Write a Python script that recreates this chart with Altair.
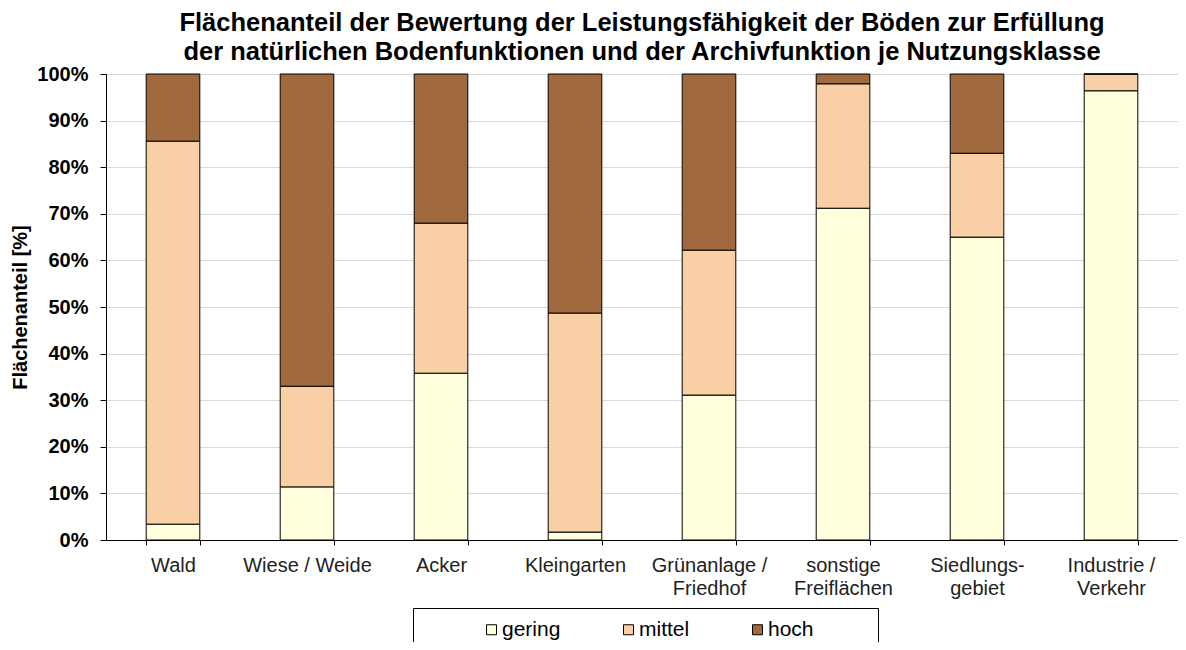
import altair as alt
import pandas as pd

categories = ["Wald", "Wiese / Weide", "Acker", "Kleingarten", "Grünanlage /|Friedhof",
              "sonstige|Freiflächen", "Siedlungs-|gebiet", "Industrie /|Verkehr"]
gering = [3.4, 11.4, 35.8, 1.7, 31.1, 71.2, 65.0, 96.4]
mittel = [82.2, 21.6, 32.2, 47.0, 31.1, 26.7, 18.0, 3.6]
hoch = [14.4, 67.0, 32.0, 51.3, 37.8, 2.1, 17.0, 0.0]
classes = ["gering", "mittel", "hoch"]
colors = ["#FFFFDD", "#F9D0A5", "#A06A3E"]
y_ticks = [0, 10, 20, 30, 40, 50, 60, 70, 80, 90, 100]

rows = []
for i, cat in enumerate(categories):
    for k, (cls, vals) in enumerate(zip(classes, [gering, mittel, hoch])):
        rows.append({"Nutzungsklasse": cat, "Bewertung": cls, "Anteil": vals[i], "ord": k})
df = pd.DataFrame(rows)

FONT = "Liberation Sans"
pad_tail = "\u00a0" * 9 + "\u200b"
legend_expr = "datum.label == 'hoch' ? 'hoch" + pad_tail + "' : datum.label"

chart = alt.Chart(df).mark_bar(stroke="black", strokeWidth=1).encode(
    x=alt.X("Nutzungsklasse:N", sort=categories,
            scale=alt.Scale(paddingInner=0.6, paddingOuter=0.3),
            axis=alt.Axis(title=None, labelAngle=0, labelExpr="split(datum.label, '|')",
                          tickBand="extent", labelFontSize=20, labelFont=FONT,
                          labelColor="#222222", labelPadding=10, labelLineHeight=23,
                          domainColor="black", tickColor="black", tickSize=5,
                          labelBaseline="top")),
    y=alt.Y("Anteil:Q", stack="zero",
            scale=alt.Scale(domain=[0, 100], nice=False),
            axis=alt.Axis(title="Flächenanteil [%]", values=y_ticks,
                          labelExpr="datum.value + '%'", labelFontSize=20,
                          labelFont=FONT, labelFontWeight="bold", labelColor="black",
                          labelPadding=12,
                          titleFontSize=20, titleFont=FONT, titleFontWeight="bold",
                          titleColor="black", titlePadding=6,
                          domainColor="black", tickColor="black", tickSize=6,
                          gridColor="#D9D9D9", grid=True)),
    color=alt.Color("Bewertung:N", scale=alt.Scale(domain=classes, range=colors),
                    legend=alt.Legend(title=None, orient="none", legendX=307, legendY=534,
                                      direction="horizontal", columns=3,
                                      symbolType="square", symbolSize=100,
                                      symbolStrokeColor="black", symbolStrokeWidth=1,
                                      symbolOffset=57, columnPadding=-9,
                                      labelFontSize=21, labelFont=FONT, labelColor="black",
                                      labelOffset=0, padding=11,
                                      labelExpr=legend_expr,
                                      strokeColor="black", fillColor="white")),
    order=alt.Order("ord:Q"),
).properties(
    width=1072, height=466,
    padding={"left": 98, "top": 66, "right": 0, "bottom": 102},
    autosize=alt.AutoSizeParams(type="none"),
    title=alt.Title(["Flächenanteil der Bewertung der Leistungsfähigkeit der Böden zur Erfüllung",
                     "der natürlichen Bodenfunktionen und der Archivfunktion je Nutzungsklasse"],
                    fontSize=25.5, font=FONT, fontWeight="bold", lineHeight=29,
                    offset=-1, anchor="middle", color="black"),
).configure_view(stroke="#444444")

chart.save("out.html", embed_options={"renderer": "svg", "actions": False})
